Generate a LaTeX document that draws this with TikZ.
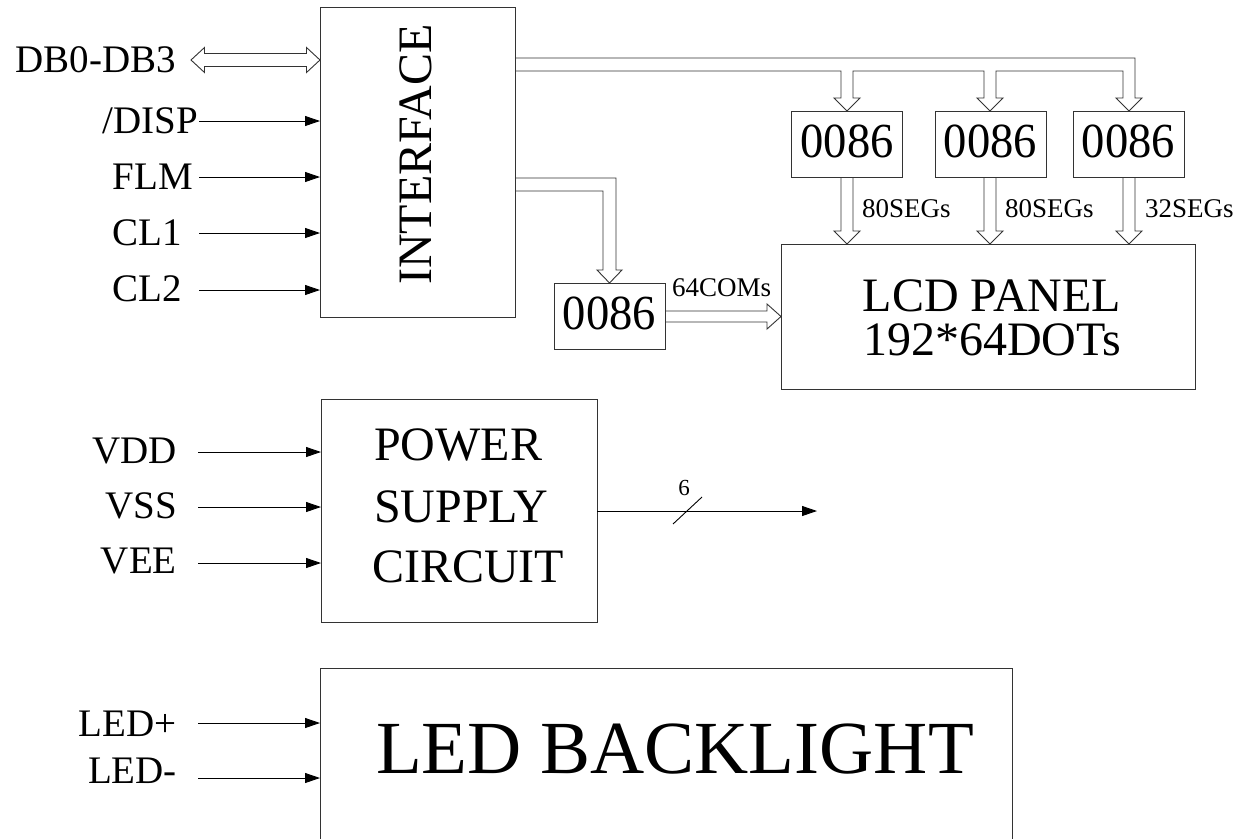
\documentclass[tikz,border=0pt]{standalone}
\usepackage{fontspec}
\setmainfont{Liberation Serif}
\usetikzlibrary{arrows.meta}
\newcommand{\chiptext}{\scalebox{0.95}[1]{0086}}
\begin{document}
\begin{tikzpicture}[x=1pt,y=-1pt,
  box/.style={draw=black!80, line width=1pt, inner sep=0pt, outer sep=0pt},
  sig/.style={line width=0.9pt, -{Triangle[length=15pt,width=10pt]}},
  bus/.style={draw=black!80, line width=0.9pt, line join=miter},
  lbl/.style={font=\fontsize{39}{39}\selectfont, anchor=base east, inner sep=0pt},
  chip/.style={box, minimum width=111pt, minimum height=66pt, font=\fontsize{49}{49}\selectfont, text height=33pt, text depth=7pt},
  small/.style={font=\fontsize{27}{27}\selectfont, anchor=base west, inner sep=0pt},
  big/.style={font=\fontsize{48}{48}\selectfont, inner sep=0pt}]
\clip (0,0) rectangle (1246,838);
\fill[white] (0,0) rectangle (1246,838);

% ---------- boxes ----------
\node[box, minimum width=195pt, minimum height=310pt] (iface) at (417.5,162) {};
\node[big, rotate=90, anchor=base] (ifacet) at (431,154.5) {INTERFACE};

\node[chip] (c1) at (847,144) {\chiptext};
\node[chip] (c2) at (990.5,144) {\chiptext};
\node[chip] (c3) at (1128.5,144) {\chiptext};
\node[chip] (c4) at (609.5,316) {\chiptext};

\node[box, minimum width=414pt, minimum height=145pt] (lcd) at (988,316.5) {};
\node[big, anchor=base] (lcdt1) at (992,311.7) {LCD PANEL};
\node[big, anchor=base] (lcdt2) at (992,355) {192*64DOTs};

\node[box, minimum width=276pt, minimum height=223pt] (psu) at (459,510.5) {};
\node[big, anchor=base west] (pst1) at (374,460) {POWER};
\node[big, anchor=base west] (pst2) at (374,522) {SUPPLY};
\node[big, anchor=base west] (pst3) at (372,582) {CIRCUIT};

\node[box, minimum width=692pt, minimum height=300pt] (led) at (666,818) {};
\node[font=\fontsize{75}{75}\selectfont, inner sep=0pt, anchor=base] (ledt) at (675,773) {LED BACKLIGHT};

% ---------- left labels ----------
\node[lbl] (ldb) at (176,72) {DB0-DB3};
\node[lbl] (ldisp) at (198,133) {/DISP};
\node[lbl] (lflm) at (193,189) {FLM};
\node[lbl] (lcl1) at (182,245) {CL1};
\node[lbl] (lcl2) at (182,301) {CL2};
\node[lbl] (lvdd) at (177,463) {VDD};
\node[lbl] (lvss) at (177,518) {VSS};
\node[lbl] (lvee) at (177,573) {VEE};
\node[lbl] (lledp) at (177,736) {LED+};
\node[lbl] (lledm) at (177,783) {LED-};

% ---------- signal arrows ----------
\coordinate (sdisp) at (199,121);
\coordinate (sflm) at (199,177);
\coordinate (scl1) at (199,233);
\coordinate (scl2) at (199,290);
\coordinate (svdd) at (198,452);
\coordinate (svss) at (198,507);
\coordinate (svee) at (198,563);
\coordinate (sledp) at (198,723);
\coordinate (sledm) at (198,778);
\foreach \s/\b in {sdisp/iface,sflm/iface,scl1/iface,scl2/iface,svdd/psu,svss/psu,svee/psu,sledp/led,sledm/led}
  \draw[sig] (\s) -- (\s -| \b.west);

% power output
\coordinate (pout) at (817,511);
\draw[sig] (psu.east |- pout) -- (pout);
\draw[line width=0.9pt] (673,524) -- (702,497);
\node[font=\fontsize{23}{23}\selectfont, anchor=base, inner sep=0pt] (six) at (684,495) {6};

% ---------- hollow bus arrows ----------
% DB0-DB3 bidirectional
\draw[bus, fill=white] (191,60) -- (204.5,47.5) -- (204.5,53.5) -- (306.5,53.5) -- (306.5,47.5)
  -- (320,60) -- (306.5,72.5) -- (306.5,66.5) -- (204.5,66.5) -- (204.5,72.5) -- cycle;

% top bus to three segment drivers
\draw[bus] (515,58) -- (1135,58) -- (1135,98) -- (1142,98) -- (1129,111) -- (1116,98) -- (1123,98)
  -- (1123,71) -- (996,71) -- (996,98) -- (1003,98) -- (990,111) -- (977,98) -- (984,98)
  -- (984,71) -- (853,71) -- (853,98) -- (860,98) -- (847,111) -- (834,98) -- (841,98)
  -- (841,71) -- (515,71);

% bus to common driver
\draw[bus] (515,178) -- (616,178) -- (616,270) -- (622,270) -- (609.5,283) -- (597,270)
  -- (603,270) -- (603,191) -- (515,191);

% segment arrows
\foreach \c in {847,990,1129}
  \draw[bus] (\c-6,177) -- (\c-6,231) -- (\c-13,231) -- (\c,244) -- (\c+13,231) -- (\c+6,231) -- (\c+6,177);

% common arrow
\draw[bus] (665,311) -- (767,311) -- (767,304) -- (781,316.5) -- (767,329) -- (767,322) -- (665,322);

% ---------- small labels ----------
\node[small] (seg1) at (862,217) {80SEGs};
\node[small] (seg2) at (1005,217) {80SEGs};
\node[small] (seg3) at (1145,217) {32SEGs};
\node[small] (com) at (672,296) {64COMs};
\end{tikzpicture}
\end{document}
